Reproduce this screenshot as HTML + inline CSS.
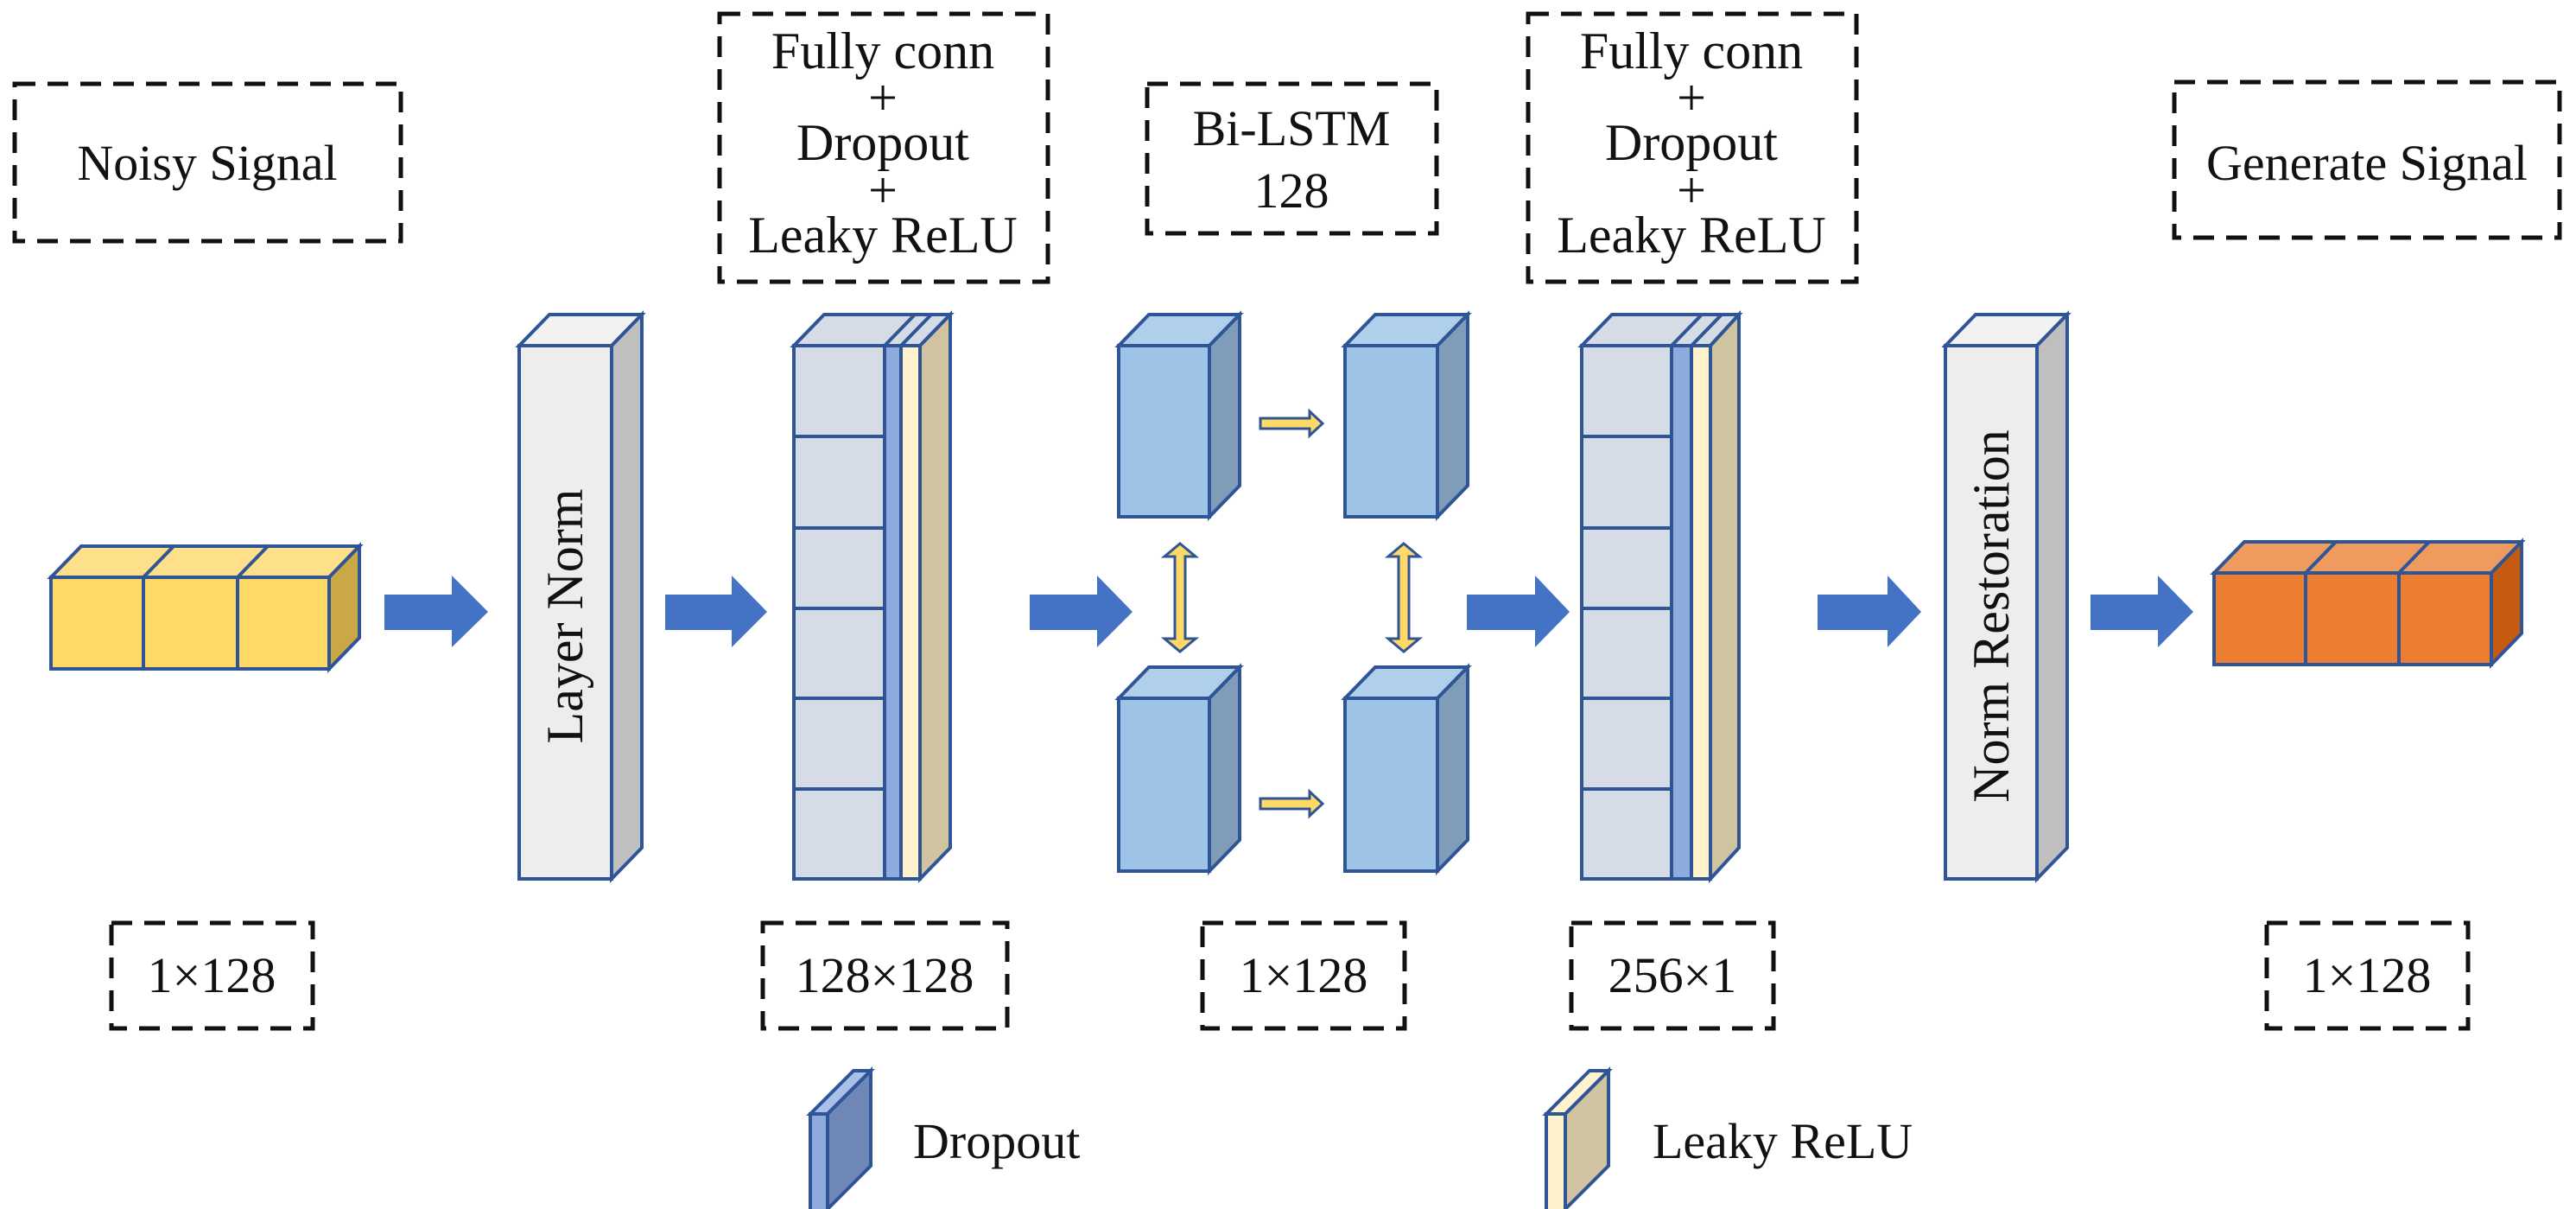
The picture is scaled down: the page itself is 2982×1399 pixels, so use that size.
<!DOCTYPE html>
<html><head><meta charset="utf-8"><style>
html,body{margin:0;padding:0;background:#fff;}
svg{display:block;}
text{font-family:"Liberation Serif",serif;fill:#111;}
</style></head><body>
<svg width="2982" height="1399" viewBox="0 0 2982 1399" xmlns="http://www.w3.org/2000/svg">
<g fill="none" stroke="#111" stroke-width="5" stroke-dasharray="24,14">
<rect x="17" y="97" width="447" height="182"/>
<rect x="833" y="16" width="380" height="310"/>
<rect x="1328" y="97" width="335" height="173"/>
<rect x="1769" y="16" width="380" height="310"/>
<rect x="2517" y="95" width="446" height="180"/>
<rect x="129" y="1068" width="233" height="122"/>
<rect x="883" y="1068" width="283" height="122"/>
<rect x="1392" y="1068" width="234" height="122"/>
<rect x="1819" y="1068" width="234" height="122"/>
<rect x="2624" y="1068" width="233" height="122"/>
</g>
<g font-size="58" text-anchor="middle">
<text x="240" y="208">Noisy Signal</text>
<text x="1495" y="168">Bi-LSTM</text>
<text x="1495" y="240">128</text>
<text x="2740" y="208">Generate Signal</text>
<text x="245" y="1148">1×128</text>
<text x="1024" y="1148">128×128</text>
<text x="1509" y="1148">1×128</text>
<text x="1936" y="1148">256×1</text>
<text x="2740" y="1148">1×128</text>
</g>
<g font-size="60" text-anchor="middle">
<text x="1022" y="79">Fully conn</text>
<text x="1022" y="133">+</text>
<text x="1022" y="185">Dropout</text>
<text x="1022" y="240">+</text>
<text x="1022" y="292">Leaky ReLU</text>
<text x="1958" y="79">Fully conn</text>
<text x="1958" y="133">+</text>
<text x="1958" y="185">Dropout</text>
<text x="1958" y="240">+</text>
<text x="1958" y="292">Leaky ReLU</text>
</g>
<g font-size="58">
<text x="1057" y="1340">Dropout</text>
<text x="1913" y="1340">Leaky ReLU</text>
</g>
<g stroke="#2F5597" stroke-width="4" stroke-linejoin="miter">
<polygon points="59,668 94,632 416,632 381,668" fill="#FFE08A"/>
<polygon points="381,668 416,632 416,738 381,774" fill="#C9A845"/>
<rect x="59" y="668" width="322" height="106" fill="#FFD966"/>
<line x1="166" y1="668" x2="166" y2="774"/><line x1="275" y1="668" x2="275" y2="774"/>
<line x1="166" y1="668" x2="201" y2="632"/><line x1="275" y1="668" x2="310" y2="632"/>
<polygon points="601,400 636,364 743,364 708,400" fill="#F2F2F2"/>
<polygon points="708,400 743,364 743,981 708,1017" fill="#BFBFBF"/>
<rect x="601" y="400" width="107" height="617" fill="#EDEDED"/>
<polygon points="919,400 954,364 1100,364 1065,400" fill="#D6DCE5"/>
<polygon points="1065,400 1100,364 1100,981 1065,1017" fill="#CFC3A0"/>
<rect x="919" y="400" width="105" height="617" fill="#D6DCE5"/>
<rect x="1024" y="400" width="19" height="617" fill="#8FAADC"/>
<rect x="1043" y="400" width="22" height="617" fill="#FFF2CC"/>
<line x1="919" y1="505" x2="1024" y2="505"/><line x1="919" y1="611" x2="1024" y2="611"/>
<line x1="919" y1="704" x2="1024" y2="704"/><line x1="919" y1="808" x2="1024" y2="808"/>
<line x1="919" y1="913" x2="1024" y2="913"/>
<line x1="1024" y1="400" x2="1059" y2="364"/><line x1="1043" y1="400" x2="1078" y2="364"/>
<polygon points="1295,400 1330,364 1435,364 1400,400" fill="#B0CFEA"/>
<polygon points="1400,400 1435,364 1435,562 1400,598" fill="#7F9DB9"/>
<rect x="1295" y="400" width="105" height="198" fill="#9DC3E6"/>
<polygon points="1295,808 1330,772 1435,772 1400,808" fill="#B0CFEA"/>
<polygon points="1400,808 1435,772 1435,972 1400,1008" fill="#7F9DB9"/>
<rect x="1295" y="808" width="105" height="200" fill="#9DC3E6"/>
<polygon points="1557,400 1592,364 1699,364 1664,400" fill="#B0CFEA"/>
<polygon points="1664,400 1699,364 1699,562 1664,598" fill="#7F9DB9"/>
<rect x="1557" y="400" width="107" height="198" fill="#9DC3E6"/>
<polygon points="1557,808 1592,772 1699,772 1664,808" fill="#B0CFEA"/>
<polygon points="1664,808 1699,772 1699,972 1664,1008" fill="#7F9DB9"/>
<rect x="1557" y="808" width="107" height="200" fill="#9DC3E6"/>
<polygon points="1831,400 1866,364 2013,364 1980,400" fill="#D6DCE5"/>
<polygon points="1980,400 2013,364 2013,981 1980,1017" fill="#CFC3A0"/>
<rect x="1831" y="400" width="104" height="617" fill="#D6DCE5"/>
<rect x="1935" y="400" width="23" height="617" fill="#8FAADC"/>
<rect x="1958" y="400" width="22" height="617" fill="#FFF2CC"/>
<line x1="1831" y1="505" x2="1935" y2="505"/><line x1="1831" y1="611" x2="1935" y2="611"/>
<line x1="1831" y1="704" x2="1935" y2="704"/><line x1="1831" y1="808" x2="1935" y2="808"/>
<line x1="1831" y1="913" x2="1935" y2="913"/>
<line x1="1935" y1="400" x2="1970" y2="364"/><line x1="1958" y1="400" x2="1993" y2="364"/>
<polygon points="2252,400 2287,364 2393,364 2358,400" fill="#F2F2F2"/>
<polygon points="2358,400 2393,364 2393,981 2358,1017" fill="#BFBFBF"/>
<rect x="2252" y="400" width="106" height="617" fill="#EDEDED"/>
<polygon points="2563,663 2598,627 2919,627 2884,663" fill="#F09B5E"/>
<polygon points="2884,663 2919,627 2919,733 2884,769" fill="#C55A11"/>
<rect x="2563" y="663" width="321" height="106" fill="#ED7D31"/>
<line x1="2669" y1="663" x2="2669" y2="769"/><line x1="2777" y1="663" x2="2777" y2="769"/>
<line x1="2669" y1="663" x2="2704" y2="627"/><line x1="2777" y1="663" x2="2812" y2="627"/>
<polygon points="938,1289 988,1239 1008,1239 958,1289" fill="#A9C0E8"/>
<polygon points="958,1289 1008,1239 1008,1349 958,1399" fill="#6F88B8"/>
<rect x="938" y="1289" width="20" height="112" fill="#8FAADC"/>
<polygon points="1790,1289 1840,1239 1862,1239 1812,1289" fill="#FFF2CC"/>
<polygon points="1812,1289 1862,1239 1862,1349 1812,1399" fill="#CFC3A0"/>
<rect x="1790" y="1289" width="22" height="112" fill="#FFF2CC"/>
<g fill="#FFD966" stroke-width="3">
<polygon points="1459,484 1516,484 1516,476 1531,490 1516,504 1516,496 1459,496"/>
<polygon points="1459,924 1516,924 1516,916 1531,930 1516,944 1516,936 1459,936"/>
<polygon points="1366,629 1384,644 1372,644 1372,739 1384,739 1366,754 1348,739 1360,739 1360,644 1348,644"/>
<polygon points="1625,629 1643,644 1631,644 1631,739 1643,739 1625,754 1607,739 1619,739 1619,644 1607,644"/>
</g>
</g>
<g fill="#4472C4">
<polygon points="445,688 523,688 523,666 565,708 523,749 523,729 445,729"/>
<polygon points="770,688 847,688 847,666 888,708 847,749 847,729 770,729"/>
<polygon points="1192,688 1270,688 1270,666 1311,708 1270,749 1270,729 1192,729"/>
<polygon points="1698,688 1777,688 1777,666 1817,708 1777,749 1777,729 1698,729"/>
<polygon points="2104,688 2185,688 2185,666 2224,708 2185,749 2185,729 2104,729"/>
<polygon points="2420,688 2498,688 2498,666 2539,708 2498,749 2498,729 2420,729"/>
</g>
<g font-size="60" text-anchor="middle">
<text transform="translate(674,713) rotate(-90)">Layer Norm</text>
<text transform="translate(2325,713) rotate(-90)">Norm Restoration</text>
</g>
</svg>
</body></html>
